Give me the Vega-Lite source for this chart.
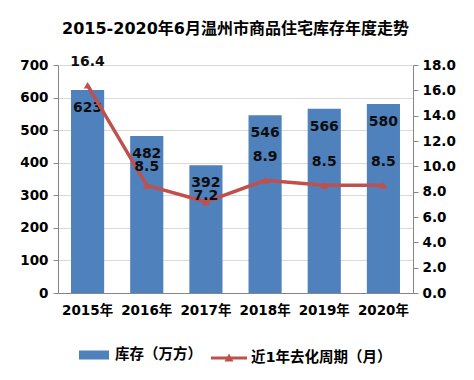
{
  "$schema": "https://vega.github.io/schema/vega-lite/v6.json",
  "width": 355,
  "height": 228,
  "autosize": {"type": "none"},
  "padding": {"left": 58, "top": 65, "right": 61, "bottom": 87},
  "background": "white",
  "title": {
    "text": "2015-2020年6月温州市商品住宅库存年度走势",
    "fontSize": 16,
    "fontWeight": "bold",
    "font": "DejaVu Sans, Noto Sans CJK SC",
    "color": "#000000",
    "frame": "group",
    "anchor": "middle",
    "offset": 18
  },
  "config": {
    "font": "DejaVu Sans, Noto Sans CJK SC",
    "view": {"stroke": null}
  },
  "data": {
    "values": [
      {"year": "2015年", "inventory": 623, "cycle": 16.4},
      {"year": "2016年", "inventory": 482, "cycle": 8.5},
      {"year": "2017年", "inventory": 392, "cycle": 7.2},
      {"year": "2018年", "inventory": 546, "cycle": 8.9},
      {"year": "2019年", "inventory": 566, "cycle": 8.5},
      {"year": "2020年", "inventory": 580, "cycle": 8.5}
    ]
  },
  "encoding": {
    "x": {
      "field": "year",
      "type": "nominal",
      "sort": null,
      "scale": {"paddingInner": 0.44, "paddingOuter": 0.22},
      "axis": {
        "title": null,
        "labelAngle": 0,
        "labelFontSize": 13.5,
        "labelFontWeight": "bold",
        "labelColor": "#000000",
        "ticks": false,
        "labelPadding": 10,
        "domainColor": "#868686"
      }
    }
  },
  "layer": [
    {
      "encoding": {
        "y": {
          "field": "inventory",
          "type": "quantitative",
          "scale": {"domain": [0, 700], "nice": false},
          "axis": {
            "values": [0, 100, 200, 300, 400, 500, 600, 700],
            "grid": true,
            "gridColor": "#D9D9D9",
            "title": null,
            "labelFontSize": 13.5,
            "labelFontWeight": "bold",
            "labelColor": "#000000",
            "tickColor": "#868686",
            "domainColor": "#868686",
            "tickSize": 5,
            "labelPadding": 5
          }
        }
      },
      "layer": [
        {
          "mark": {"type": "bar"},
          "encoding": {
            "fill": {
              "datum": "库存（万方）",
              "scale": {"range": ["#4F81BD"]},
              "legend": {
                "title": null,
                "orient": "none",
                "legendX": 21,
                "legendY": 275,
                "symbolType": "M-1,-0.3H1V0.3H-1Z",
                "symbolSize": 900,
                "symbolStrokeWidth": 0,
                "labelFontSize": 14.5,
                "labelFontWeight": "bold",
                "labelColor": "#000000",
                "labelOffset": 6
              }
            }
          }
        },
        {
          "mark": {"type": "text", "dy": 18, "fontSize": 14, "fontWeight": "bold", "color": "#0D0D0D", "baseline": "middle"},
          "encoding": {"text": {"field": "inventory", "type": "quantitative"}}
        }
      ]
    },
    {
      "encoding": {
        "y": {
          "field": "cycle",
          "type": "quantitative",
          "scale": {"domain": [0, 18], "nice": false},
          "axis": {
            "orient": "right",
            "values": [0, 2, 4, 6, 8, 10, 12, 14, 16, 18],
            "format": ".1f",
            "grid": false,
            "title": null,
            "labelFontSize": 13.5,
            "labelFontWeight": "bold",
            "labelColor": "#000000",
            "tickColor": "#868686",
            "domainColor": "#868686",
            "tickSize": 5,
            "labelPadding": 4
          }
        }
      },
      "layer": [
        {
          "mark": {"type": "line", "strokeWidth": 3.5},
          "encoding": {
            "stroke": {
              "datum": "近1年去化周期（月）",
              "scale": {"range": ["#C0504D"]},
              "legend": {
                "title": null,
                "orient": "none",
                "legendX": 153,
                "legendY": 275,
                "symbolType": "M-1,-0.09H1V0.09H-1Z M-0.25,0.2L0,-0.25L0.25,0.2Z",
                "symbolSize": 1296,
                "symbolStrokeWidth": 0,
                "symbolFillColor": "#C0504D",
                "labelFontSize": 14.5,
                "labelFontWeight": "bold",
                "labelColor": "#000000",
                "labelOffset": 4,
                "encode": {"symbols": {"update": {"fill": {"value": "#C0504D"}, "strokeWidth": {"value": 0}}}}
              }
            }
          }
        },
        {
          "mark": {"type": "point", "shape": "triangle-up", "filled": true, "color": "#C0504D", "size": 60, "opacity": 1}
        },
        {
          "transform": [{"filter": "datum.year !== '2017年' && datum.year !== '2016年'"}],
          "mark": {"type": "text", "dy": -23, "fontSize": 14, "fontWeight": "bold", "color": "#0D0D0D", "baseline": "middle"},
          "encoding": {"text": {"field": "cycle", "type": "quantitative", "format": ".1f"}}
        },
        {
          "transform": [{"filter": "datum.year === '2016年'"}],
          "mark": {"type": "text", "dy": -18, "fontSize": 14, "fontWeight": "bold", "color": "#0D0D0D", "baseline": "middle"},
          "encoding": {"text": {"field": "cycle", "type": "quantitative", "format": ".1f"}}
        },
        {
          "transform": [{"filter": "datum.year === '2017年'"}],
          "mark": {"type": "text", "dy": -6, "fontSize": 14, "fontWeight": "bold", "color": "#0D0D0D", "baseline": "middle"},
          "encoding": {"text": {"field": "cycle", "type": "quantitative", "format": ".1f"}}
        }
      ]
    }
  ],
  "resolve": {"scale": {"y": "independent"}}
}
